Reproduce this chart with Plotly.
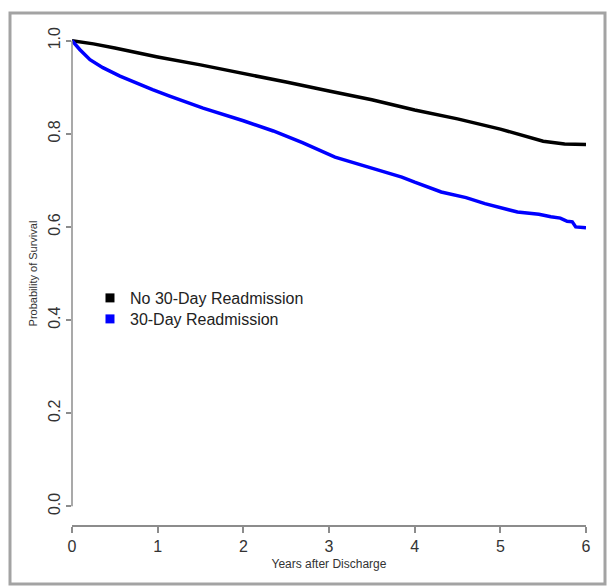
import plotly.graph_objects as go

# ---- data ----
years_no = [0.0, 0.25, 0.5, 0.75, 1.0, 1.5, 2.0, 2.5, 3.0, 3.5, 4.0, 4.5, 5.0, 5.25, 5.5, 5.75, 6.0]
surv_no = [1.0, 0.993, 0.984, 0.974, 0.965, 0.948, 0.930, 0.911, 0.892, 0.873, 0.851, 0.832, 0.810, 0.797, 0.784, 0.778, 0.777]

years_re = [0.0, 0.09, 0.21, 0.36, 0.56, 0.75, 0.94, 1.14, 1.53, 2.0, 2.35, 2.69, 3.07, 3.45, 3.85, 4.0, 4.31,
            4.6, 4.82, 5.2, 5.45, 5.59, 5.7, 5.78, 5.84, 5.88, 6.0]
surv_re = [1.0, 0.981, 0.959, 0.942, 0.924, 0.909, 0.895, 0.881, 0.855, 0.828, 0.806, 0.781, 0.750, 0.729, 0.707, 0.696, 0.675,
           0.663, 0.650, 0.632, 0.627, 0.622, 0.619, 0.612, 0.611, 0.600, 0.598]

series_names = ["No 30-Day Readmission", "30-Day Readmission"]
series_colors = ["#000000", "#0000ff"]

x_ticks = [0, 1, 2, 3, 4, 5, 6]
y_ticks = [0.0, 0.2, 0.4, 0.6, 0.8, 1.0]
y_tick_labels = ["0.0", "0.2", "0.4", "0.6", "0.8", "1.0"]

x_title = "Years after Discharge"
y_title = "Probability of Survival"

# ---- figure ----
FONT = "Arial, Liberation Sans, sans-serif"
AXIS_GRAY = "#8c8c8c"
TEXT = "#333333"

y_min, y_max = -0.04, 1.04

fig = go.Figure()
for xs, ys, name, col in [(years_no, surv_no, series_names[0], series_colors[0]),
                          (years_re, surv_re, series_names[1], series_colors[1])]:
    fig.add_trace(go.Scatter(x=xs, y=ys, mode="lines", line=dict(color=col, width=3.5),
                             showlegend=False, hoverinfo="skip"))

# legend entries (square keys), each in its own legend for tight spacing
for i, (name, col) in enumerate(zip(series_names, series_colors)):
    fig.add_trace(go.Scatter(x=[None], y=[None], mode="markers", name=name,
                             marker=dict(symbol="square", size=9, color=col),
                             legend="legend" if i == 0 else "legend2"))

legend_common = dict(font=dict(family=FONT, size=16, color="#222222"), bgcolor="rgba(0,0,0,0)",
                     xanchor="left", yanchor="middle", x=0.035, borderwidth=0)

fig.update_layout(
    width=608, height=586,
    margin=dict(l=72, r=22, t=22, b=61),
    plot_bgcolor="white", paper_bgcolor="white",
    font=dict(family=FONT, color=TEXT),
    legend=dict(**legend_common, y=(525 - 298) / 503),
    legend2=dict(**legend_common, y=(525 - 319) / 503),
    xaxis=dict(range=[x_ticks[0], x_ticks[-1]], tickvals=x_ticks, showgrid=False, zeroline=False,
               showline=True, linecolor=AXIS_GRAY, linewidth=1.5,
               ticks="outside", ticklen=6, tickcolor=AXIS_GRAY, tickwidth=1.5,
               tickfont=dict(size=16, color=TEXT),
               title=dict(text=x_title, font=dict(size=12, color=TEXT), standoff=6)),
    yaxis=dict(range=[y_min, y_max], tickvals=y_ticks, ticktext=y_tick_labels, showgrid=False,
               zeroline=False, showline=False, tickangle=-90,
               ticks="outside", ticklen=5, tickcolor=AXIS_GRAY, tickwidth=1.5,
               tickfont=dict(size=16, color=TEXT),
               title=dict(text=y_title, font=dict(size=11, color=TEXT), standoff=5)),
)

# R-style y axis line spanning only the tick range
fig.add_shape(type="line", xref="paper", yref="paper", x0=0, x1=0,
              y0=(y_ticks[0] - y_min) / (y_max - y_min), y1=(y_ticks[-1] - y_min) / (y_max - y_min),
              line=dict(color=AXIS_GRAY, width=1.5))

# outer grey frame around the picture
plot_w, plot_h = 608 - 72 - 22, 586 - 22 - 61
fig.add_shape(type="rect", xref="paper", yref="paper",
              x0=(10 - 72) / plot_w, x1=(605 - 72) / plot_w,
              y0=(525 - 584) / plot_h, y1=(525 - 13) / plot_h,
              line=dict(color="#a3a3a3", width=3), fillcolor="rgba(0,0,0,0)")

fig.write_html("out.html", config={"displayModeBar": False},
               post_script="document.body.style.margin='0';document.body.style.overflow='hidden';")
